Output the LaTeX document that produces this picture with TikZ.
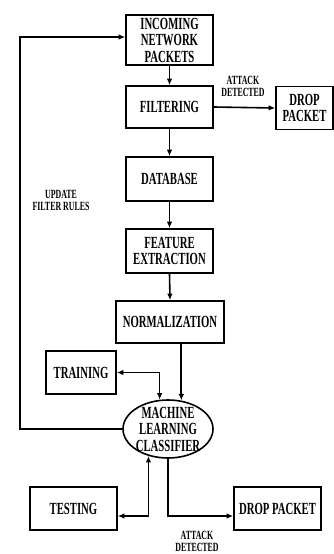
\documentclass[tikz,border=0pt]{standalone}
\usepackage{fontspec}
\setmainfont{Liberation Serif}[FakeStretch=0.63]
\usetikzlibrary{shapes.geometric,arrows.meta,calc}
\begin{document}
\begin{tikzpicture}[x=1pt,y=-1pt,
  every node/.style={font=\bfseries\fontsize{17}{16.5}\selectfont, align=center},
  boxnode/.style={draw, line width=1.6pt, inner sep=0pt},
  smalltxt/.style={font=\bfseries\fontsize{12.5}{12}\selectfont, inner sep=0pt},
  conn/.style={line width=1.6pt, -{Latex[length=6.5pt,width=5.5pt]}},
  biconn/.style={line width=1.6pt, {Latex[length=6.5pt,width=5.5pt]}-{Latex[length=6.5pt,width=5.5pt]}}]
\useasboundingbox (0,0) rectangle (333,554);
\node[boxnode, minimum width=87, minimum height=50] (inc) at (169.5,40) {INCOMING\\NETWORK\\PACKETS};
\node[boxnode, minimum width=87, minimum height=42] (filt) at (169.5,107) {FILTERING};
\node[boxnode, minimum width=57, minimum height=43] (drop1) at (304.5,108) {DROP\\PACKET};
\node[boxnode, minimum width=87, minimum height=44] (db) at (169.5,179) {DATABASE};
\node[boxnode, minimum width=87, minimum height=44] (feat) at (169.5,251) {FEATURE\\EXTRACTION};
\node[boxnode, minimum width=108, minimum height=42] (norm) at (170,322) {NORMALIZATION};
\node[boxnode, minimum width=70, minimum height=43] (train) at (81,372.5) {TRAINING};
\node[draw, ellipse, line width=1.6pt, minimum width=90, minimum height=58, inner sep=0pt] (ml) at (168,429) {};
\node (mlt) at (ml.center) {MACHINE\\LEARNING\\CLASSIFIER};
\node[boxnode, minimum width=87, minimum height=43] (test) at (73.5,508.5) {TESTING};
\node[boxnode, minimum width=87, minimum height=43] (drop2) at (277.5,508.5) {DROP PACKET};
\node[smalltxt] (lab1) at (243,86) {ATTACK\\DETECTED};
\node[smalltxt] (lab2) at (61,200) {UPDATE\\FILTER RULES};
\node[smalltxt] (lab3) at (197,541) {ATTACK\\DETECTED};
\coordinate (fb) at (20,37);
\coordinate (tb) at (149,516);
\coordinate (db2) at (168.5,516);
\draw[conn] (inc.south) -- (filt.north);
\draw[conn] (filt.south) -- (db.north);
\draw[conn] (db.south) -- (feat.north);
\draw[conn] (feat.south) -- (norm.north);
\draw[conn] (filt.east) -- (drop1.west);
\draw[conn] (norm.south -| ml.65) -- (ml.65);
\draw[biconn] (train.east) -| (ml.106);
\draw[biconn] (ml.234) -- (ml.234 |- tb) -- (tb -| test.east);
\draw[conn] (ml.south) -- (ml.south |- db2) -- (db2 -| drop2.west);
\draw[conn] (ml.west) -| (fb) -- (fb -| inc.west);
\end{tikzpicture}
\end{document}
